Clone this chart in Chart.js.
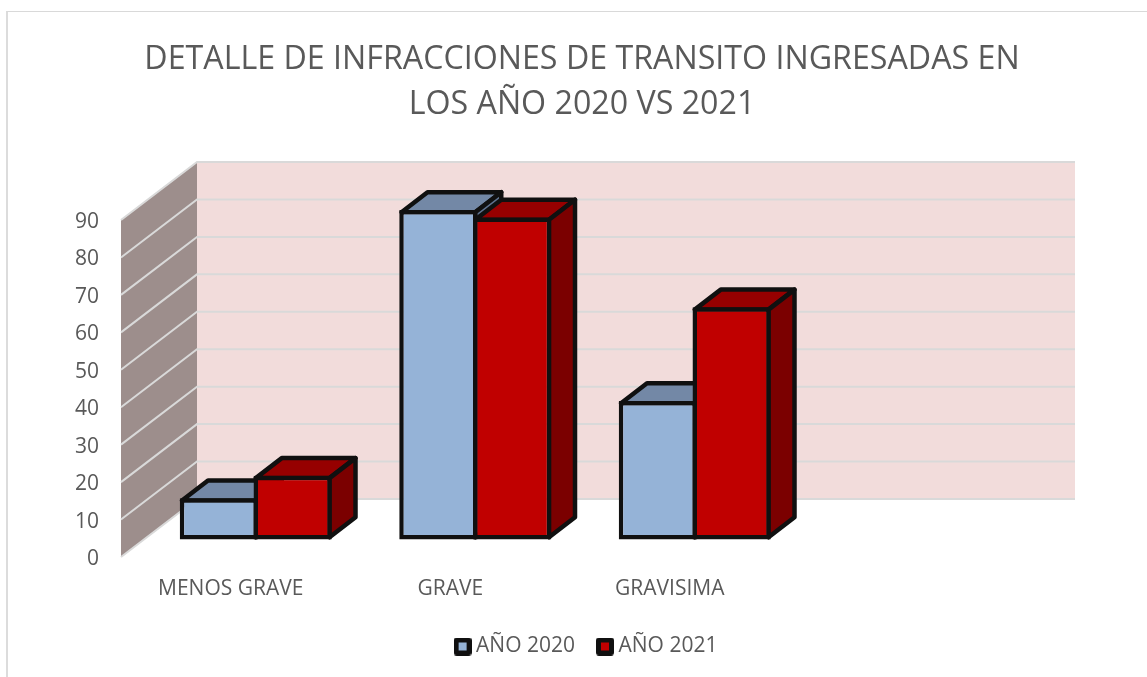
<!DOCTYPE html>
<html>
<head>
<meta charset="utf-8">
<style>
html,body{margin:0;padding:0;background:#fff;overflow:hidden}
#wrap{position:relative;width:1147px;height:677px}
#frame{position:absolute;left:6px;top:11px;right:0;bottom:0;border-left:2px solid #dcdcdc;border-top:1px solid #d9d9d9}
canvas{position:absolute;left:0;top:0}
</style>
<script src="https://cdn.jsdelivr.net/npm/chart.js@4/dist/chart.umd.min.js"></script>
</head>
<body>
<div id="wrap"><div id="frame"></div><canvas id="c" width="1147" height="677"></canvas></div>
<script>
const titleLines = ['DETALLE DE INFRACCIONES DE TRANSITO INGRESADAS EN', 'LOS AÑO 2020 VS 2021'];
const categories = ['MENOS GRAVE', 'GRAVE', 'GRAVISIMA', ''];
const seriesNames = ['AÑO 2020', 'AÑO 2021'];
const values2020 = [11, 88, 37, null];
const values2021 = [17, 86, 62, null];
const yTicks = [0, 10, 20, 30, 40, 50, 60, 70, 80, 90];

const FONT = '"Open Sans", sans-serif';
const TEXT = '#595959';
const INK = '#101010';
const LINE = 4.5;
const looks = [
  {front:'#95B3D7', top:'#7388A6', side:'#5F7390'},
  {front:'#C00000', top:'#960000', side:'#7B0000'}
];
const WALL = {dx:76, dy:-58, back:'#F2DCDB', side:'#9D8E8C', grid:'#D9D9D9'};
const BAR_SHIFT = {dx:25, dy:-17.5};
const DEPTH = {dx:26, dy:-20};

function marker(color){
  const m = document.createElement('canvas');
  m.width = 18; m.height = 18;
  const g = m.getContext('2d');
  g.fillStyle = INK;
  g.beginPath(); g.roundRect(0,0,18,18,3); g.fill();
  g.fillStyle = color;
  g.fillRect(5,5,8,8);
  return m;
}
const markers = looks.map(l => marker(l.front));

function poly(ctx, pts, fill){
  ctx.beginPath();
  pts.forEach((p,i)=> i ? ctx.lineTo(p[0],p[1]) : ctx.moveTo(p[0],p[1]));
  ctx.closePath();
  ctx.fillStyle = fill;
  ctx.fill();
  ctx.stroke();
}

function drawExtrusion(chart, index){
  const {ctx} = chart, look = looks[index], meta = chart.getDatasetMeta(index);
  const h = LINE/2;
  ctx.save();
  ctx.strokeStyle = INK; ctx.lineWidth = LINE; ctx.lineJoin = 'round';
  meta.data.forEach((bar,i)=>{
    if(chart.data.datasets[index].data[i]==null) return;
    const p = bar.getProps(['x','y','base','width'],true);
    const l = p.x-p.width/2+h, r = p.x+p.width/2-h, t = p.y+h, b = p.base-h;
    poly(ctx,[[l,t],[r,t],[r+DEPTH.dx,t+DEPTH.dy],[l+DEPTH.dx,t+DEPTH.dy]],look.top);
    poly(ctx,[[r,t],[r+DEPTH.dx,t+DEPTH.dy],[r+DEPTH.dx,b+DEPTH.dy],[r,b]],look.side);
  });
  ctx.restore();
}

const scene = {
  id:'scene',
  afterLayout(chart){
    const t = chart.titleBlock, l = chart.legend;
    t.left += 82.5; t.right += 82.5;
    l.left += 89; l.right += 89;
    l.top = 609;
  },
  beforeDraw(chart){
    const y = chart.scales.y;
    y.getLabelItems(chart.chartArea).forEach(it=>{
      if(!it.nudged){ it.options.translation[1] += 2; it.nudged = true; }
    });
  },
  beforeDatasetsDraw(chart){
    const {ctx} = chart, x = chart.scales.x, y = chart.scales.y;
    const b0 = y.getPixelForValue(0), b90 = y.getPixelForValue(90);
    ctx.save();
    ctx.fillStyle = WALL.back;
    ctx.fillRect(x.left+WALL.dx, b90+WALL.dy, x.right-x.left, b0-b90);
    ctx.fillStyle = WALL.side;
    ctx.beginPath();
    ctx.moveTo(x.left,b0); ctx.lineTo(x.left+WALL.dx,b0+WALL.dy);
    ctx.lineTo(x.left+WALL.dx,b90+WALL.dy); ctx.lineTo(x.left,b90);
    ctx.closePath(); ctx.fill();
    ctx.strokeStyle = WALL.grid; ctx.lineWidth = 2;
    y.ticks.forEach(t=>{
      const p = y.getPixelForValue(t.value);
      ctx.beginPath();
      ctx.moveTo(x.left,p);
      ctx.lineTo(x.left+WALL.dx,p+WALL.dy);
      ctx.lineTo(x.right+WALL.dx,p+WALL.dy);
      ctx.stroke();
    });
    ctx.restore();
    ctx.save();
    ctx.translate(BAR_SHIFT.dx,BAR_SHIFT.dy);
    [0,1].forEach(i=>{
      drawExtrusion(chart,i);
      chart.getDatasetMeta(i).controller.draw();
    });
    ctx.restore();
    return false;
  }
};

const common = {borderColor:INK, borderWidth:LINE, borderSkipped:false, categoryPercentage:0.672, barPercentage:1.061};

new Chart(document.getElementById('c'),{
  type:'bar',
  data:{
    labels:categories,
    datasets:[
      Object.assign({label:seriesNames[0], data:values2020, backgroundColor:looks[0].front},common),
      Object.assign({label:seriesNames[1], data:values2021, backgroundColor:looks[1].front},common)
    ]
  },
  options:{
    responsive:false, animation:false,
    layout:{padding:{left:0,right:148,top:0,bottom:0}},
    plugins:{
      tooltip:{enabled:false},
      title:{display:true, text:titleLines, color:TEXT,
        font:{family:FONT,size:32.2,weight:'normal',lineHeight:1.4},
        padding:{top:37,bottom:92.84}},
      legend:{position:'bottom',
        labels:{color:TEXT,font:{family:FONT,size:21},usePointStyle:true,boxWidth:6,padding:27,
          generateLabels(chart){
            return Chart.defaults.plugins.legend.labels.generateLabels(chart).map((it)=>{
              it.pointStyle = markers[it.datasetIndex];
              return it;
            });
          }}}
    },
    scales:{
      x:{grid:{display:false,drawTicks:false},border:{display:false},
        afterFit(s){s.height=62;},
        ticks:{color:TEXT,autoSkip:false,maxRotation:0,padding:19,font:{family:FONT,size:21}}},
      y:{min:0,max:90,grid:{display:false,drawTicks:false},border:{display:false},
        afterFit(s){s.width=121;},
        afterBuildTicks(s){s.ticks = yTicks.map(v=>({value:v}));},
        ticks:{color:TEXT,padding:22,font:{family:FONT,size:21}}}
    }
  },
  plugins:[scene]
});
</script>
</body>
</html>
